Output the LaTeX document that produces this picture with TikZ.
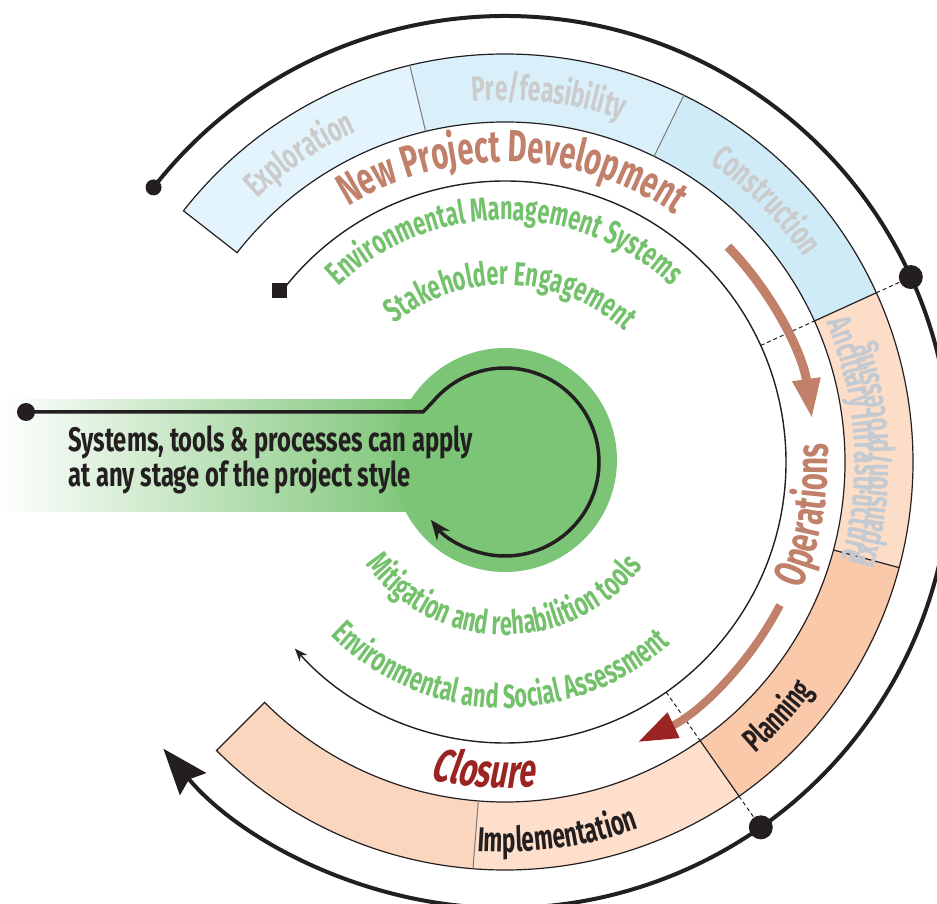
\documentclass[tikz,border=0pt]{standalone}
\usepackage{fontspec}
\usetikzlibrary{decorations.text,arrows.meta}
\newfontfamily\dinsys{Fira Sans}[FakeStretch=0.7]
\newfontfamily\din{Fira Sans}[FakeStretch=0.65]
\newfontfamily\dinsl{Fira Sans}[FakeStretch=0.65,FakeSlant=0.18]
\definecolor{ink}{HTML}{231F20}
\definecolor{gr}{HTML}{7CC576}
\definecolor{grtext}{HTML}{74C16C}
\definecolor{npd}{HTML}{C0806A}
\definecolor{dred}{HTML}{9B2423}
\definecolor{bandgray}{HTML}{CBCBCB}
\definecolor{ancgray}{HTML}{C3CAD1}
\definecolor{blueA}{HTML}{E3F4FC}
\definecolor{blueB}{HTML}{D9F0FA}
\definecolor{blueC}{HTML}{CFEBF8}
\definecolor{peachA}{HTML}{FCDDC7}
\definecolor{peachB}{HTML}{F9C9AA}
\definecolor{peachC}{HTML}{FDDFCB}
\definecolor{peachD}{HTML}{FBD6BF}
\definecolor{divgray}{HTML}{7A7A7A}
\newcommand{\bandseg}[3]{\fill[#3] (#1:340pt) arc[start angle=#1,end angle=#2,radius=340pt] -- (#2:408pt) arc[start angle=#2,end angle=#1,radius=408pt] -- cycle;}
\tikzset{
  curvetext/.style={decorate,decoration={text along path,text align=center,#1}},
  bigdot/.style={circle,fill=ink,inner sep=0pt,minimum size=#1},
  dashline/.style={draw=ink,line width=1pt,dash pattern=on 4pt off 3pt},
}
\begin{document}
\begin{tikzpicture}[x=1pt,y=1pt]
\useasboundingbox (-505,-442) rectangle (432,462);
% bands
\bandseg{142}{103.5}{blueA}
\bandseg{103.5}{64}{blueB}
\bandseg{64}{24.5}{blueC}
\bandseg{24.5}{-15}{peachA}
\bandseg{-15}{-55}{peachB}
\bandseg{-55}{-94.5}{peachC}
\bandseg{-94.5}{-135}{peachD}
\draw[ink,line width=1.2pt] (142:340pt) arc[start angle=142,end angle=-135,radius=340pt] -- (-135:408pt) arc[start angle=-135,end angle=142,radius=408pt] -- cycle;
\draw[divgray,line width=1pt] (103.5:340pt) -- (103.5:408pt);
\draw[divgray,line width=1pt] (64:340pt) -- (64:408pt);
\draw[divgray,line width=1pt] (-94.5:340pt) -- (-94.5:408pt);
\draw[ink,line width=1.2pt] (24.5:340pt) -- (24.5:408pt);
\draw[ink,line width=1.2pt] (-15:340pt) -- (-15:408pt);
\draw[ink,line width=1.2pt] (-55:340pt) -- (-55:408pt);
% dashed radial lines
\draw[dashline] (24.5:281pt) -- (24.5:340pt);
\draw[dashline] (24.5:408pt) -- (24.5:446pt);
\draw[dashline] (-55:281pt) -- (-55:340pt);
\draw[dashline] (-55:408pt) -- (-55:446pt);
% outer arc
\draw[ink,line width=4pt,-{Stealth[length=46pt,width=34pt,inset=6pt]}] (142:446pt) arc[start angle=142,end angle=-140,radius=446pt];
\node[bigdot=16pt] (dA) at (142:446pt) {};
\node[bigdot=24pt] (dB) at (24.5:446pt) {};
\node[bigdot=24pt] (dC) at (-55:446pt) {};
% inner ring line
\draw[ink,line width=1.4pt,-{Stealth[length=13pt,width=10pt]}] (142.7:281pt) arc[start angle=142.7,end angle=-138.4,radius=281pt];
\node[fill=ink,minimum size=15pt,inner sep=0pt] (sq) at (142.7:283pt) {};
% brown arrows
\draw[npd,line width=9pt,-{Triangle[length=40pt,width=26pt]}] (44:310pt) arc[start angle=44,end angle=8,radius=310pt];
\draw[npd,line width=8pt,-{Triangle[length=40pt,width=26pt,color=dred]}] (-27.5:310pt) arc[start angle=-27.5,end angle=-64.7,radius=310pt];
% green hub
\shade[left color=white,right color=gr] (-505,-50) rectangle (-85,62);
\fill[gr] (-86,-50) rectangle (0,62);
\fill[gr] (0,2) circle[radius=112pt];
\node[bigdot=18pt] (hubdot) at (-479,50) {};
\draw[ink,line width=3.5pt] (hubdot.center) -- (-82,50) -- (140:94pt);
\draw[ink,line width=3.5pt,-{Stealth[length=20pt,width=16pt]}] (140:94pt) arc[start angle=140,end angle=-142,radius=94pt];
\node[anchor=base west,inner sep=0pt,text=ink,font=\dinsys\bfseries\fontsize{34}{34}\selectfont] (sys1) at (-437,10) {Systems, tools \& processes can apply};
\node[anchor=base west,inner sep=0pt,text=ink,font=\dinsys\bfseries\fontsize{34}{34}\selectfont] (sys2) at (-437,-25) {at any stage of the project style};
% curved texts
\path[curvetext={text color=npd,text={|\din\bfseries\fontsize{45}{45}\selectfont|New Project Development}}] (160:300pt) arc[start angle=160,end angle=17,radius=300pt];
\path[curvetext={text color=npd,text={|\din\bfseries\fontsize{45}{45}\selectfont|Operations}}] (-50:323pt) arc[start angle=-50,end angle=30,radius=323pt];
\path[curvetext={text color=dred,text={|\dinsl\bfseries\fontsize{47}{47}\selectfont|Closure}}] (236:326pt) arc[start angle=236,end angle=296,radius=326pt];
\path[curvetext={text color=grtext,text={|\din\bfseries\fontsize{33.4}{33.4}\selectfont|Environmental Management Systems}}] (170:242pt) arc[start angle=170,end angle=10,radius=242pt];
\path[curvetext={text color=grtext,text={|\din\bfseries\fontsize{33.4}{33.4}\selectfont|Stakeholder Engagement}}] (170:177pt) arc[start angle=170,end angle=6,radius=177pt];
\path[curvetext={text color=grtext,text={|\din\bfseries\fontsize{33.4}{33.4}\selectfont|Mitigation and rehabilition tools}}] (190:173pt) arc[start angle=190,end angle=349,radius=173pt];
\path[curvetext={text color=grtext,text={|\din\bfseries\fontsize{33.4}{33.4}\selectfont|Environmental and Social Assessment}}] (190:246pt) arc[start angle=190,end angle=347,radius=246pt];
\path[curvetext={text color=bandgray,text={|\din\bfseries\fontsize{35}{35}\selectfont|Exploration}}] (153.7:362pt) arc[start angle=153.7,end angle=93.7,radius=362pt];
\path[curvetext={text color=bandgray,text={|\din\bfseries\fontsize{35}{35}\selectfont|Pre/feasibility}}] (113.2:362pt) arc[start angle=113.2,end angle=53.2,radius=362pt];
\path[curvetext={text color=bandgray,text={|\din\bfseries\fontsize{35}{35}\selectfont|Construction}}] (75:362pt) arc[start angle=75,end angle=15,radius=362pt];
\path[curvetext={text color=ancgray,text={|\din\bfseries\fontsize{35}{35}\selectfont|Ancillary Infrastructure}}] (43.7:350pt) arc[start angle=43.7,end angle=-36.3,radius=350pt];
\path[curvetext={text color=ancgray,text={|\din\bfseries\fontsize{35}{35}\selectfont|Expansion/processing}}] (-38:384pt) arc[start angle=-38,end angle=40,radius=384pt];
\path[curvetext={text color=ink,text={|\din\bfseries\fontsize{32.8}{32.8}\selectfont|Planning}}] (-73:384pt) arc[start angle=-73,end angle=-13,radius=384pt];
\path[curvetext={text color=ink,text={|\din\bfseries\fontsize{34.5}{34.5}\selectfont|Implementation}}] (-112:390pt) arc[start angle=-112,end angle=-52,radius=390pt];
\end{tikzpicture}
\end{document}
